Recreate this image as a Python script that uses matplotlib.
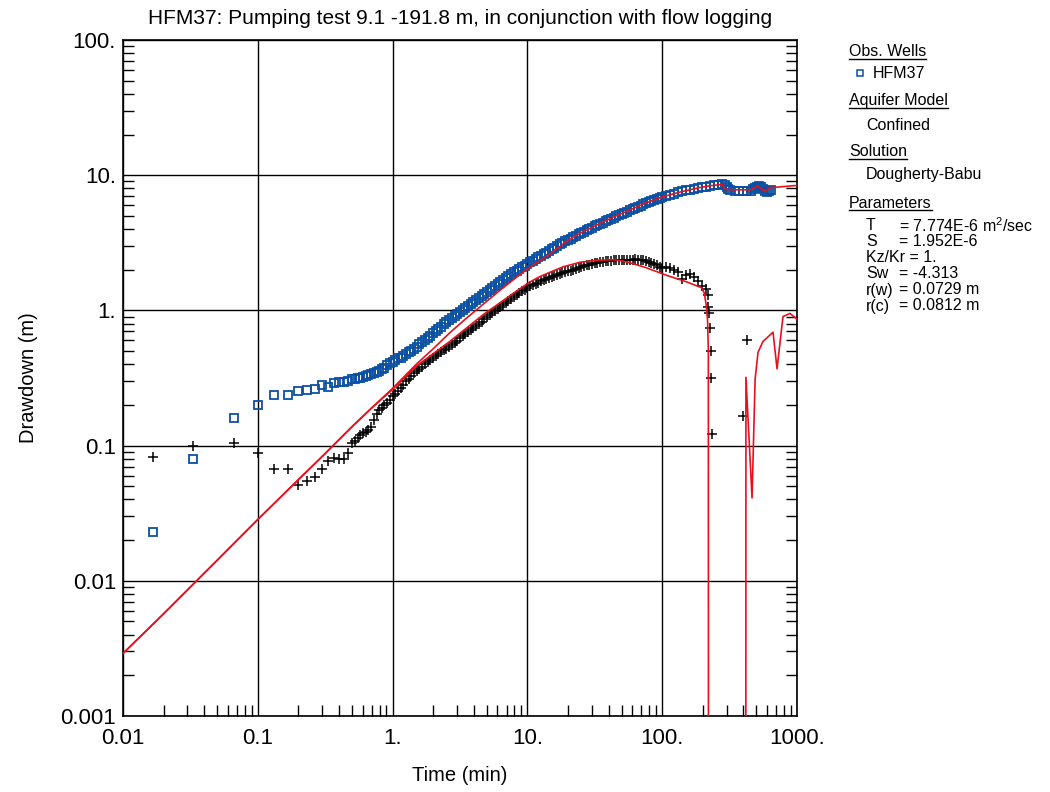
import matplotlib
matplotlib.use("Agg")
import matplotlib.pyplot as plt
from matplotlib.lines import Line2D
from matplotlib.ticker import LogLocator, FixedLocator, FixedFormatter, NullFormatter

plt.rcParams['font.family'] = ['Liberation Sans', 'DejaVu Sans']
plt.rcParams['mathtext.fontset'] = 'custom'
plt.rcParams['mathtext.rm'] = 'Liberation Sans'

# time of readings (min), shared by drawdown and derivative up to 213 min
obs_t = [0.0167, 0.0333, 0.0667, 0.1, 0.133, 0.167, 0.2, 0.233, 0.267, 0.3, 0.333, 0.367,
         0.4, 0.433, 0.467,
         0.5, 0.525, 0.55, 0.575, 0.6, 0.63, 0.66, 0.69, 0.725, 0.76, 0.79, 0.83, 0.87, 0.91,
         0.955, 1.0, 1.05, 1.1, 1.15, 1.2, 1.26, 1.32, 1.38, 1.45, 1.51, 1.58, 1.66, 1.74,
         1.82, 1.91, 2.0, 2.09, 2.19, 2.29, 2.4, 2.51, 2.63, 2.75, 2.88, 3.02, 3.16, 3.31,
         3.47, 3.63, 3.8, 3.98, 4.17, 4.37, 4.57, 4.79, 5.01, 5.25, 5.5, 5.75, 6.03, 6.31,
         6.61, 6.92, 7.24, 7.59, 7.94, 8.32, 8.71, 9.12, 9.55, 10.0, 10.5, 11.0, 11.5, 12.0,
         12.6, 13.2, 13.8, 14.5, 15.1, 15.8, 16.6, 17.4, 18.2, 19.1, 20.0, 20.9, 21.9, 22.9,
         24.0, 25.1, 26.3, 27.5, 28.8, 30.2, 31.6, 33.1, 34.7, 36.3, 38.0, 39.8, 41.7, 43.7,
         45.7, 47.9, 50.1, 52.5, 55.0, 57.5, 60.3, 63.1, 66.1, 69.2, 72.4, 75.9, 79.4, 83.2,
         87.1, 91.2, 95.5, 100, 107, 114, 122, 131, 141, 151, 161, 173, 185, 198, 213,
         228, 244, 261, 280, 292, 300, 310, 321, 344, 369, 395, 423, 453, 470, 485, 505,
         520, 540, 557, 575, 597, 615, 640]
# observed drawdown HFM37 (m)
obs_s = [0.023, 0.080, 0.159, 0.198, 0.235, 0.235, 0.252, 0.256, 0.260, 0.279, 0.270, 0.288,
         0.293, 0.296, 0.298,
         0.310, 0.312, 0.314, 0.316, 0.320, 0.327, 0.334, 0.341, 0.347, 0.352, 0.357, 0.366,
         0.376, 0.392, 0.406, 0.418, 0.431, 0.443, 0.448, 0.458, 0.474, 0.490, 0.505, 0.522,
         0.540, 0.561, 0.582, 0.605, 0.628, 0.652, 0.677, 0.703, 0.730, 0.758, 0.787, 0.817,
         0.848, 0.877, 0.908, 0.939, 0.972, 1.006, 1.041, 1.077, 1.114, 1.153, 1.193, 1.235,
         1.278, 1.321, 1.366, 1.412, 1.460, 1.510, 1.561, 1.614, 1.669, 1.726, 1.785, 1.846,
         1.909, 1.966, 2.024, 2.083, 2.145, 2.208, 2.270, 2.334, 2.400, 2.467, 2.536, 2.607,
         2.680, 2.755, 2.832, 2.911, 2.993, 3.077, 3.163, 3.240, 3.319, 3.400, 3.482, 3.567,
         3.654, 3.743, 3.827, 3.913, 4.000, 4.090, 4.181, 4.275, 4.366, 4.458, 4.553, 4.649,
         4.748, 4.848, 4.951, 5.054, 5.159, 5.266, 5.376, 5.488, 5.604, 5.723, 5.844, 5.968,
         6.095, 6.224, 6.325, 6.428, 6.533, 6.640, 6.748, 6.858, 7.00, 7.15, 7.30, 7.45,
         7.60, 7.72, 7.83, 7.94, 8.03, 8.12, 8.21, 8.30, 8.40, 8.48, 8.55, 8.40, 8.15, 7.95,
         7.80, 7.68, 7.63, 7.62, 7.62, 7.65, 7.90, 8.10, 8.20, 8.30, 8.20, 7.90, 7.60, 7.45,
         7.65, 7.75]

# derivative of observed drawdown (m), same times as obs_t up to 213 min
der_s = [0.0828, 0.099, 0.105, 0.0885, 0.0675, 0.0667, 0.0508, 0.0551, 0.0585, 0.0675, 0.0767,
         0.0814, 0.080, 0.080, 0.0876,
         0.105, 0.108, 0.114, 0.120, 0.123, 0.125, 0.131, 0.138, 0.154, 0.170, 0.183, 0.191,
         0.200, 0.207, 0.219, 0.232, 0.240, 0.252, 0.266, 0.282, 0.298, 0.311, 0.325, 0.342,
         0.356, 0.368, 0.383, 0.398, 0.413, 0.429, 0.445, 0.458, 0.474, 0.490, 0.506, 0.520,
         0.538, 0.557, 0.577, 0.598, 0.620, 0.643, 0.667, 0.691, 0.716, 0.742, 0.769, 0.797,
         0.826, 0.860, 0.890, 0.922, 0.955, 0.989, 1.024, 1.060, 1.097, 1.135, 1.174, 1.214,
         1.255, 1.300, 1.342, 1.384, 1.425, 1.466, 1.505, 1.540, 1.572, 1.604, 1.636, 1.668,
         1.700, 1.730, 1.758, 1.786, 1.815, 1.845, 1.876, 1.908, 1.940, 1.972, 2.003, 2.034,
         2.065, 2.095, 2.124, 2.152, 2.180, 2.206, 2.230, 2.252, 2.272, 2.290, 2.305, 2.318,
         2.330, 2.340, 2.348, 2.355, 2.360, 2.364, 2.368, 2.372, 2.378, 2.380, 2.372, 2.358,
         2.340, 2.318, 2.290, 2.258, 2.220, 2.170, 2.110, 2.065, 2.09, 2.07, 2.00, 1.93,
         1.72, 1.82, 1.85, 1.76, 1.66, 1.52, 1.43]
# derivative points after the pump stopped
late_der_t = [218, 220, 221, 226, 230, 230, 235, 395, 424]
late_der_s = [1.30, 1.06, 0.96, 0.745, 0.50, 0.318, 0.121, 0.165, 0.603]

# Dougherty-Babu fitted drawdown (min, m)
fit_t = [0.01, 0.02, 0.05, 0.1, 0.2, 0.3, 0.5, 0.7, 1.0, 1.5, 2.0, 2.66, 3.5, 4.7, 6.0,
         8.3, 10.4, 14.8, 20, 25, 33, 45, 58, 75, 100, 135, 190, 226, 278, 290, 330,
         380, 450, 514, 580, 631, 700, 1000]
fit_s = [0.0029, 0.0057, 0.0142, 0.0284, 0.056, 0.083, 0.138, 0.19, 0.265, 0.40, 0.52,
         0.684, 0.87, 1.11, 1.36, 1.76, 2.08, 2.62, 3.3, 3.75, 4.3, 4.98, 5.55, 6.22, 6.9,
         7.5, 8.1, 8.35, 8.55, 7.86, 7.8, 7.8, 7.8, 8.3, 7.55, 8.1, 8.15, 8.4]

# fitted derivative (min, m); 1e-9 marks negative values below the axis
fitd_t = [0.01, 0.02, 0.05, 0.1, 0.2, 0.3, 0.5, 0.7, 1.0, 1.5, 2.66, 4.7, 7.8, 10.4, 12.4,
          14.8, 18.4, 24.6, 32.8, 43, 50, 57.7, 76, 109, 153, 196, 205, 212, 217, 220,
          221, 416, 418, 464, 489, 514, 560, 664, 711, 787, 887, 1000]
fitd_s = [0.0029, 0.0057, 0.0142, 0.0284, 0.056, 0.083, 0.138, 0.19, 0.26, 0.387, 0.59,
          0.93, 1.33, 1.62, 1.78, 1.92, 2.1, 2.27, 2.35, 2.37, 2.33, 2.25, 2.07, 1.81, 1.62,
          1.47, 1.35, 1.1, 0.85, 0.5, 1e-9, 1e-9, 0.32, 0.041, 0.31, 0.49, 0.59, 0.69, 0.37,
          0.90, 0.95, 0.86]

decades = [0.001, 0.01, 0.1, 1, 10, 100, 1000]
x_labels = ['0.01', '0.1', '1.', '10.', '100.', '1000.']
y_labels = ['0.001', '0.01', '0.1', '1.', '10.', '100.']

blue = '#0b51a3'
red = '#e8101c'

fig = plt.figure(figsize=(10.5, 7.92), dpi=100)
ax = fig.add_axes([123 / 1050, 1 - 716 / 792, 674 / 1050, 676 / 792])
ax.set_xscale('log')
ax.set_yscale('log')
ax.set_xlim(0.01, 1000)
ax.set_ylim(0.001, 100)

ax.plot(obs_t, obs_s, ls='none', marker='s', ms=5.3, mfc='none', mec=blue, mew=1.3, zorder=3)
ax.plot(obs_t[:len(der_s)], der_s, ls='none', marker='+', ms=7, mec='black', mew=1.1, zorder=3)
ax.plot(late_der_t, late_der_s, ls='none', marker='+', ms=7, mec='black', mew=1.1, zorder=3)
ax.plot(fit_t, fit_s, color=red, lw=1.2, zorder=4)
ax.plot(fitd_t, fitd_s, color=red, lw=1.2, zorder=4)

ax.xaxis.set_major_locator(FixedLocator(decades[1:]))
ax.xaxis.set_major_formatter(FixedFormatter(x_labels))
ax.yaxis.set_major_locator(FixedLocator(decades[:-1]))
ax.yaxis.set_major_formatter(FixedFormatter(y_labels))
for a in (ax.xaxis, ax.yaxis):
    a.set_minor_locator(LogLocator(base=10, subs=range(2, 10), numticks=20))
    a.set_minor_formatter(NullFormatter())
ax.tick_params(which='major', length=0, labelsize=16, colors='black')
ax.tick_params(axis='x', which='major', pad=9)
ax.tick_params(axis='y', which='major', pad=5)
ax.tick_params(which='minor', direction='in', length=8, width=1, top=False, right=True)
ax.grid(True, which='major', color='black', lw=1)
for sp in ax.spines.values():
    sp.set_linewidth(1.2)

ax.set_xlabel('Time (min)', fontsize=14.5, labelpad=12)
ax.set_ylabel('Drawdown (m)', fontsize=14.5, labelpad=16)
fig.text(460 / 1050, 1 - 18 / 792, 'HFM37: Pumping test 9.1 -191.8 m, in conjunction with flow logging',
         ha='center', va='center', fontsize=15)

# legend panel on the right
def fy(py):
    return 1 - py / 792

headers = [('Obs. Wells', 52), ('Aquifer Model', 101), ('Solution', 152), ('Parameters', 203)]
head_txt = [fig.text(849 / 1050, fy(y), s, fontsize=11.5, va='center') for s, y in headers]
fig.add_artist(Line2D([860 / 1050], [fy(73)], marker='s', ms=4, mfc='none', mec=blue, mew=1.1, ls='none'))
fig.text(873 / 1050, fy(73), 'HFM37', fontsize=11.5, va='center')
fig.text(866 / 1050, fy(125), 'Confined', fontsize=11.5, va='center')
fig.text(866 / 1050, fy(175), 'Dougherty-Babu', fontsize=11.5, va='center')

param_names = ['T', 'S', 'Kz/Kr = 1.', 'Sw', 'r(w)', 'r(c)']
param_values = ['= 7.774E-6 m$^{2}$/sec', '= 1.952E-6', '', '= -4.313', '= 0.0729 m', '= 0.0812 m']
param_y = [226, 242, 258, 274, 290, 306]
for n, v, y in zip(param_names, param_values, param_y):
    fig.text(866 / 1050, fy(y), n, fontsize=11.5, va='center')
    if v:
        fig.text(899 / 1050, fy(y), v, fontsize=11.5, va='center')

fig.canvas.draw()
r = fig.canvas.get_renderer()
for t in head_txt:
    bb = t.get_window_extent(r).transformed(fig.transFigure.inverted())
    fig.add_artist(Line2D([bb.x0, bb.x1], [bb.y0 + 0.001] * 2, transform=fig.transFigure,
                          color='black', lw=1))

fig.savefig('out.png', dpi=100)
